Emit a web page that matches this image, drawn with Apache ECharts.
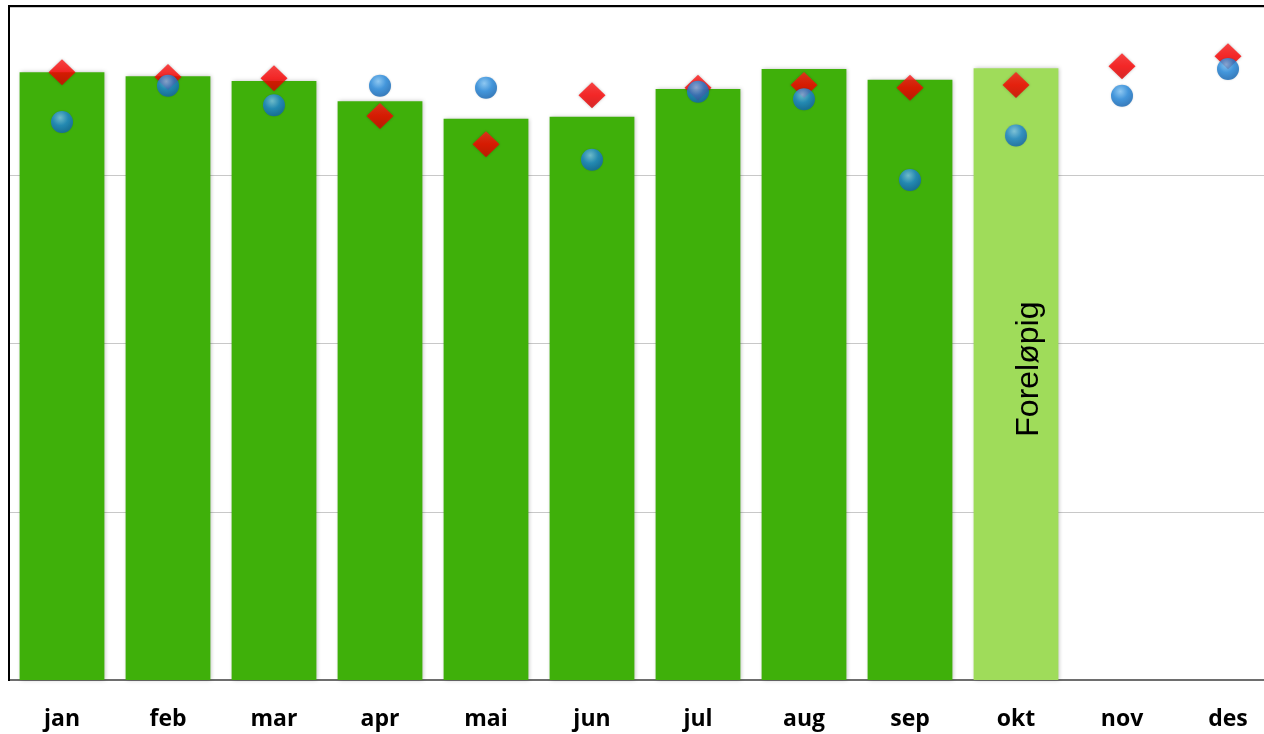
<!DOCTYPE html>
<html>
<head>
<meta charset="utf-8">
<script src="https://cdn.jsdelivr.net/npm/echarts@6/dist/echarts.min.js"></script>
<style>
html,body{margin:0;padding:0;background:#fff;overflow:hidden;width:1264px;height:734px;}
#chart{width:1290px;height:734px;}
</style>
</head>
<body>
<div id="chart"></div>
<script>
var months = ['jan','feb','mar','apr','mai','jun','jul','aug','sep','okt','nov','des'];
var barValues = [90.3, 89.7, 89.0, 86.0, 83.4, 83.7, 87.8, 90.8, 89.2, 90.9, null, null];
var redValues = [90.3, 89.6, 89.4, 83.8, 79.6, 86.9, 88.0, 88.4, 88.0, 88.4, 91.2, 92.7];
var blueValues = [82.9, 88.3, 85.4, 88.3, 88.0, 77.3, 87.4, 86.3, 74.3, 80.9, 86.8, 90.8];
var prelimIndex = 9;
var prelimLabel = 'Foreløpig';

var chart = echarts.init(document.getElementById('chart'));

var barData = barValues.map(function (v, i) {
  if (i === prelimIndex) {
    return {
      value: v,
      itemStyle: { color: '#9fdc5a' },
      label: {
        show: true, position: 'inside', rotate: 90,
        formatter: prelimLabel,
        fontFamily: 'Liberation Sans, Arial, sans-serif',
        fontSize: 32, color: '#000', offset: [5, 13]
      }
    };
  }
  return v;
});

chart.setOption({
  animation: false,
  grid: { left: 9, right: 9, top: 7, bottom: 54, containLabel: false },
  xAxis: {
    type: 'category',
    data: months,
    axisLine: { lineStyle: { color: '#6e6e6e', width: 2 } },
    axisTick: { show: false },
    axisLabel: {
      color: '#000', fontWeight: 'bold', fontSize: 23,
      fontFamily: 'Open Sans, Lato, sans-serif', margin: 28
    }
  },
  yAxis: {
    type: 'value', min: 0, max: 100, interval: 25,
    axisLabel: { show: false },
    axisLine: { show: false },
    axisTick: { show: false },
    splitLine: { lineStyle: { color: '#c8c8c8', width: 1 } }
  },
  series: [
    {
      type: 'bar',
      data: barData,
      barCategoryGap: '20%',
      itemStyle: {
        color: '#3fb00a',
        shadowColor: 'rgba(0,0,0,0.25)', shadowBlur: 4, shadowOffsetX: 1
      },
      z: 2
    },
    {
      type: 'scatter',
      data: redValues,
      symbol: 'diamond',
      symbolSize: [27, 26],
      itemStyle: {
        color: {
          type: 'linear', x: 0, y: 0, x2: 0, y2: 1,
          colorStops: [{ offset: 0, color: '#ff2020' }, { offset: 0.5, color: '#ff0000' }, { offset: 1, color: '#d80000' }]
        },
        shadowColor: 'rgba(0,0,0,0.3)', shadowBlur: 3
      },
      z: 3
    },
    {
      type: 'scatter',
      data: blueValues,
      symbol: 'circle',
      symbolSize: 22,
      itemStyle: {
        color: {
          type: 'radial', x: 0.42, y: 0.3, r: 0.8,
          colorStops: [{ offset: 0, color: '#7cc4f8' }, { offset: 0.45, color: '#1f86dc' }, { offset: 1, color: '#0b5aa8' }]
        },
        shadowColor: 'rgba(0,0,0,0.2)', shadowBlur: 2
      },
      z: 4
    }
  ],
  graphic: [
    {
      type: 'polyline',
      shape: { points: [[9, 681], [9, 6], [1290, 6]] },
      style: { stroke: '#000', lineWidth: 2, fill: null },
      z: 10
    }
  ]
});
</script>
</body>
</html>
